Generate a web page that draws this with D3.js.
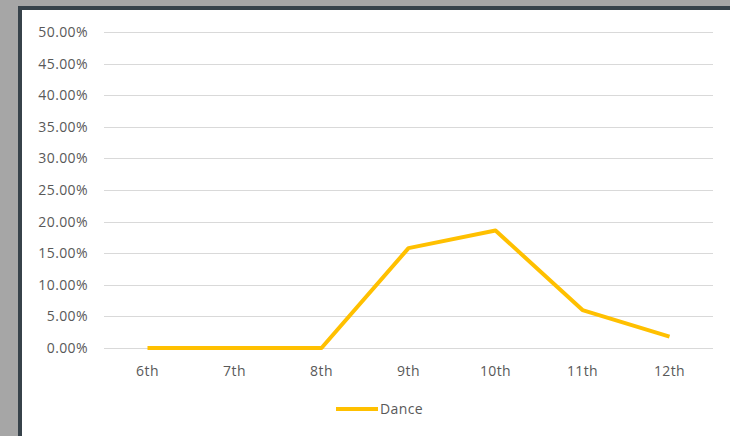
<!DOCTYPE html>
<html>
<head>
<meta charset="utf-8">
<script src="https://cdn.jsdelivr.net/npm/d3@7"></script>
<style>
	html, body { margin: 0; padding: 0; background: #a6a6a6; }
	svg { display: block; }
	text { font-family: "Open Sans", sans-serif; fill: #595959; letter-spacing: 0.4px; }
</style>
</head>
<body>
<svg id="svg" width="730" height="436"></svg>
<script>
const grades = ['6th', '7th', '8th', '9th', '10th', '11th', '12th']
const dance = [0, 0, 0, 0.158, 0.186, 0.060, 0.018]
const yTicks = [0, 0.05, 0.10, 0.15, 0.20, 0.25, 0.30, 0.35, 0.40, 0.45, 0.50]
const seriesName = 'Dance'

const $svg = d3.select('#svg')
const width = 730
const height = 436

// window frame
$svg.append('rect')
	.attr('x', 18).attr('y', 6)
	.attr('width', width - 18).attr('height', height - 6)
	.attr('fill', '#37424a')
$svg.append('rect')
	.attr('x', 22).attr('y', 10)
	.attr('width', width - 22).attr('height', height - 10)
	.attr('fill', '#ffffff')

const x = d3.scaleBand()
	.domain(grades)
	.range([104, 713])

const y = d3.scaleLinear()
	.domain([0, 0.5])
	.range([348, 32])

const fmt = d3.format('.2%')

// gridlines
$svg.append('g')
	.selectAll('line')
	.data(yTicks)
	.join('line')
	.attr('x1', 104).attr('x2', 713)
	.attr('y1', d => Math.round(y(d)) + 0.5)
	.attr('y2', d => Math.round(y(d)) + 0.5)
	.attr('stroke', '#d9d9d9')
	.attr('stroke-width', 1)

// y labels
$svg.append('g')
	.selectAll('text')
	.data(yTicks)
	.join('text')
	.attr('x', 88)
	.attr('y', d => y(d))
	.attr('dy', '0.35em')
	.attr('text-anchor', 'end')
	.style('font-size', '14px')
	.text(d => fmt(d))

// x labels
$svg.append('g')
	.selectAll('text')
	.data(grades)
	.join('text')
	.attr('x', d => x(d) + x.bandwidth() / 2)
	.attr('y', 371)
	.attr('dy', '0.35em')
	.attr('text-anchor', 'middle')
	.style('font-size', '14px')
	.text(d => d)

// line
const line = d3.line()
	.x((d, i) => x(grades[i]) + x.bandwidth() / 2)
	.y(d => y(d))

$svg.append('path')
	.attr('d', line(dance))
	.attr('fill', 'none')
	.attr('stroke', '#ffc000')
	.attr('stroke-width', 4)
	.attr('stroke-linejoin', 'round')

// legend
$svg.append('line')
	.attr('x1', 336).attr('x2', 378)
	.attr('y1', 409).attr('y2', 409)
	.attr('stroke', '#ffc000')
	.attr('stroke-width', 4)
$svg.append('text')
	.attr('x', 380)
	.attr('y', 409)
	.attr('dy', '0.35em')
	.style('font-size', '14px')
	.text(seriesName)
</script>
</body>
</html>
